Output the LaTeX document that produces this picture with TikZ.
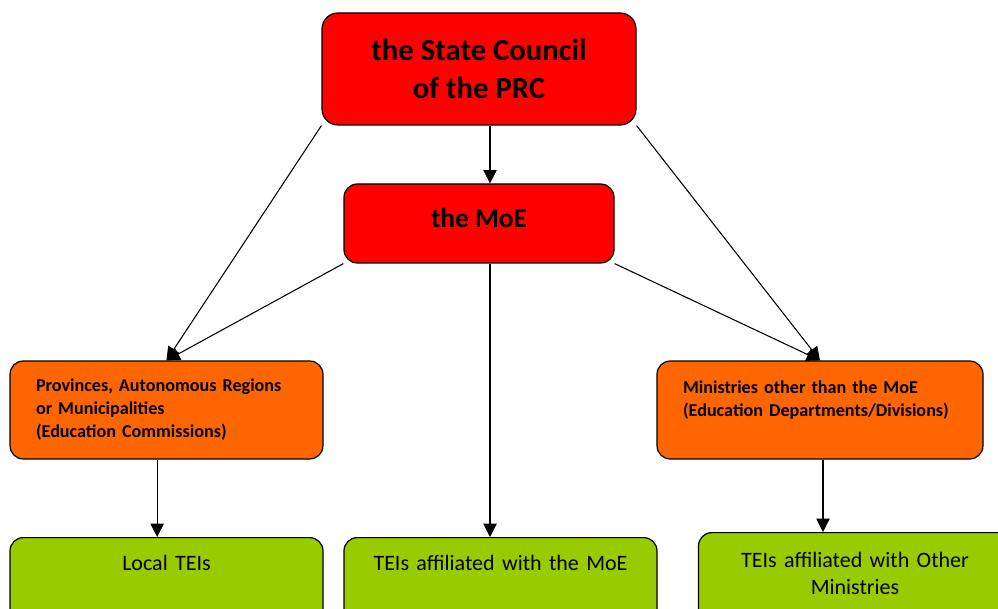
\documentclass[tikz,border=0pt]{standalone}
\usepackage{fontspec}
\setmainfont{Carlito}
\usetikzlibrary{positioning, arrows.meta}

\definecolor{govred}{RGB}{255,0,0}
\definecolor{govorange}{RGB}{255,102,0}
\definecolor{teigreen}{RGB}{153,204,0}

\begin{document}
\begin{tikzpicture}[x=0.75pt, y=-0.75pt,
    govbox/.style={draw=black, line width=0.9pt, rounded corners=10pt},
    redbox/.style={govbox, fill=govred, align=center},
    orangebox/.style={govbox, fill=govorange, align=left, font=\bfseries\fontsize{13.6}{17.25}\selectfont,
      minimum height=73.5pt, inner xsep=19.5pt, inner ysep=0pt},
    teibox/.style={govbox, fill=teigreen, anchor=north, align=center, font=\fontsize{16.5}{20.25}\selectfont,
      text width=234.75pt, inner sep=0pt, text depth=100pt},
    link/.style={-{Triangle[length=10pt,width=10pt]}, line width=0.8pt}]

    % Canvas
    \useasboundingbox (0,0) rectangle (998,609);
    \clip (0,0) rectangle (998,609);

    % Central level
    \node[redbox, minimum width=235.5pt, minimum height=84pt, rounded corners=12pt,
      font=\bfseries\fontsize{23}{28.5}\selectfont] (council) at (479,69) {the State Council\\of the PRC};
    \node[redbox, minimum width=202.5pt, minimum height=59.25pt, text depth=9pt,
      font=\bfseries\fontsize{20.5}{24}\selectfont] (moe) at (479,223.5) {the MoE};

    % Provincial and ministerial level
    \node[orangebox, text width=195.75pt] (prov) at (166.5,410)
      {Provinces, Autonomous Regions\\or Municipalities\\(Education Commissions)};
    \node[orangebox, text width=205.5pt] (mini) at (820,410)
      {Ministries other than the MoE\\(Education Departments/Divisions)\\\mbox{}};

    % Institutions
    \node[teibox, text height=24.75pt] (local) at (166.5,537) {Local TEIs};
    \node[teibox, text height=24.75pt] (teimoe) at (500.5,537) {TEIs affiliated with the MoE};
    \node[teibox, text height=26.25pt] (teioth) at (855,532) {TEIs affiliated with Other\\Ministries};

    % Links
    \draw[link] ([xshift=8.25pt]council.south) -- ([xshift=8.25pt]moe.north);
    \foreach \from/\to in {council.south west/prov.north, moe.south west/prov.north,
                           council.south east/mini.north, moe.south east/mini.north}
      \draw[link] (\from) -- (\to);
    \draw[link] ([xshift=8.25pt]moe.south) -- ([xshift=8.25pt]moe.south |- teimoe.north);
    \draw[link] ([xshift=-7pt]prov.south) -- ([xshift=-7pt]prov.south |- local.north);
    \draw[link] ([xshift=2.25pt]mini.south) -- ([xshift=2.25pt]mini.south |- teioth.north);

\end{tikzpicture}
\end{document}
